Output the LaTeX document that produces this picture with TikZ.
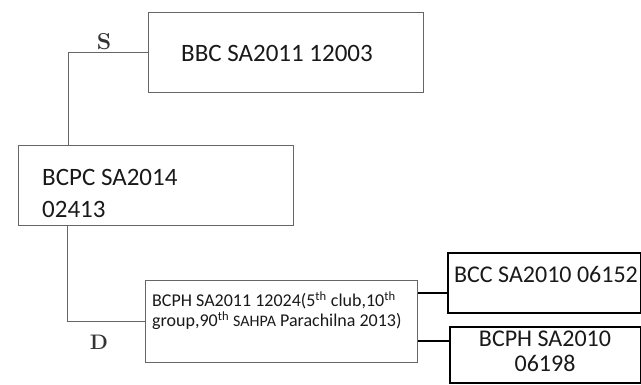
\documentclass[tikz,border=0pt]{standalone}
\usepackage{fontspec}
\newfontfamily\carlitofont{Carlito}
\begin{document}
\begin{tikzpicture}[x=1pt,y=-1pt,
  hand/.style={draw=black!60, line width=0.8pt, rectangle, inner sep=0pt, anchor=north west},
  solidbox/.style={draw=black, line width=1.6pt, rectangle, inner sep=0pt, anchor=north west},
  handline/.style={draw=black!60, line width=0.9pt},
  solidline/.style={draw=black, line width=1.4pt},
  txt/.style={inner sep=0pt, text=black!90},
  handmark/.style={inner sep=0pt, text=black!80}]
\useasboundingbox (0,0) rectangle (641,384);
% boxes
\node[hand, minimum width=275pt, minimum height=80pt] (bbc) at (148,12) {};
\node[hand, minimum width=275pt, minimum height=80pt] (bcpc) at (18,145) {};
\node[hand, minimum width=272pt, minimum height=82pt] (bcph) at (145,280) {};
\node[solidbox, minimum width=193pt, minimum height=60pt] (bcc) at (447,252) {};
\node[solidbox, minimum width=191pt, minimum height=56pt] (bcph2) at (449,326) {};
% texts
\node[txt, font=\carlitofont\fontsize{25}{30}\selectfont] (bbct) at (277,53) {BBC SA2011 12003};
\node[txt, anchor=west, align=left, font=\carlitofont\fontsize{25}{32}\selectfont] (bcpct) at (42,193) {BCPC SA2014\\02413};
\node[txt, anchor=west, align=left, font=\carlitofont\fontsize{18}{20}\selectfont] (bcpht) at (152,311)
  {BCPH SA2011 12024(5\textsuperscript{th} club,10\textsuperscript{th}\\group,90\textsuperscript{th} {\fontsize{16}{20}\selectfont SAHPA} Parachilna 2013)};
\node[txt, font=\carlitofont\fontsize{24}{28}\selectfont] (bcct) at (546,274) {BCC SA2010 06152};
\node[txt, align=center, font=\carlitofont\fontsize{24}{25}\selectfont] (bcph2t) at (545,351) {BCPH SA2010\\06198};
% hand labels
\node[handmark, font=\bfseries\fontsize{23}{23}\selectfont] (slab) at (104,42) {S};
\node[handmark, font=\bfseries\fontsize{21}{21}\selectfont] (dlab) at (99,342) {D};
% connectors
\draw[handline] (bbc.west) -| ([xshift=50pt]bcpc.north west);
\draw[handline] ([xshift=49pt]bcpc.south west) |- (bcph.west);
\coordinate (c1) at ([yshift=-10pt]bcc.west);
\coordinate (c2) at ([yshift=14pt]bcph2.west);
\draw[solidline] (bcph.east |- c1) -- (c1);
\draw[solidline] (bcph.east |- c2) -- (c2);
\end{tikzpicture}
\end{document}
